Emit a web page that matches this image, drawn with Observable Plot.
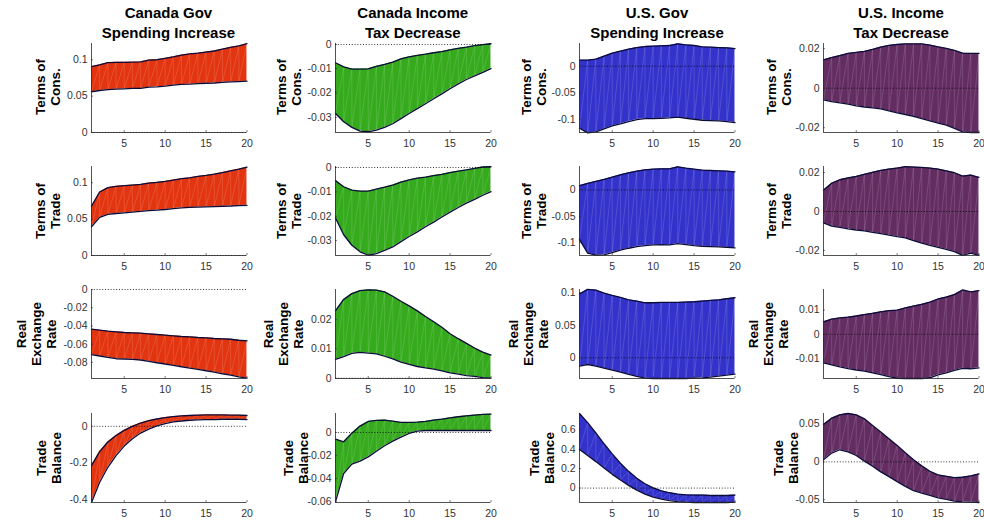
<!DOCTYPE html>
<html>
<head>
<meta charset="utf-8">
<script src="https://cdn.jsdelivr.net/npm/d3@7"></script>
<script src="https://cdn.jsdelivr.net/npm/@observablehq/plot@0.6"></script>
<style>
  html, body { margin: 0; padding: 0; background: #fff; }
  #chart { position: relative; width: 984px; height: 523px; overflow: hidden; background: #fff;
           font-family: "Liberation Sans", Arial, Helvetica, sans-serif; }
  .title { position: absolute; width: 240px; text-align: center; font-weight: bold; font-size: 15px;
           line-height: 20px; color: #000; transform: translateX(-50%); }
  .ylab { position: absolute; font-weight: bold; font-size: 13.5px; line-height: 15px; color: #000;
          text-align: center; white-space: nowrap; transform: translate(-50%, -50%) rotate(-90deg); }
  .panel { position: absolute; }
</style>
</head>
<body>
<div id="chart"></div>
<script>
// ---------- data ----------
const periods = [1,2,3,4,5,6,7,8,9,10,11,12,13,14,15,16,17,18,19,20];
const xTicks = [5, 10, 15, 20];
const columnTitles = [["Canada Gov", "Spending Increase"], ["Canada Income", "Tax Decrease"],
                      ["U.S. Gov", "Spending Increase"], ["U.S. Income", "Tax Decrease"]];
const rowLabels = [["Terms of", "Cons."], ["Terms of", "Trade"], ["Real", "Exchange", "Rate"], ["Trade", "Balance"]];
const fillColors = ["#e2340f", "#34aa1c", "#3333cc", "#632d62"];

// Canada Gov Spending Increase
const caGovConsHi = [0.0905,0.093,0.096,0.0964,0.0964,0.0966,0.097,0.0995,0.1,0.102,0.104,0.1064,0.108,0.109,0.1105,0.112,0.1145,0.117,0.119,0.122];
const caGovConsLo = [0.056,0.0577,0.059,0.0595,0.06,0.0605,0.0605,0.0623,0.0627,0.0636,0.065,0.066,0.0664,0.0673,0.0677,0.068,0.069,0.0695,0.07,0.0705];
const caGovTotHi = [0.0677,0.0873,0.0932,0.095,0.096,0.0968,0.0977,0.0995,0.1005,0.1018,0.1036,0.1055,0.1068,0.1086,0.11,0.1118,0.114,0.1164,0.1186,0.1214];
const caGovTotLo = [0.0395,0.0523,0.0564,0.0577,0.0586,0.0595,0.0605,0.0618,0.0623,0.0632,0.0645,0.0655,0.066,0.0664,0.0668,0.0673,0.0677,0.068,0.0686,0.069];
const caGovRerHi = [-0.0435,-0.0446,-0.0457,-0.0465,-0.0472,-0.0476,-0.0479,-0.0487,-0.0494,-0.0501,-0.0509,-0.0516,-0.052,-0.0527,-0.0531,-0.0538,-0.0542,-0.0546,-0.0557,-0.0564];
const caGovRerLo = [-0.0715,-0.073,-0.0745,-0.076,-0.0763,-0.0767,-0.0774,-0.0789,-0.0804,-0.0818,-0.0833,-0.0848,-0.0863,-0.0877,-0.0892,-0.0907,-0.0925,-0.094,-0.0958,-0.0973];
const caGovTbHi = [-0.215,-0.138,-0.086,-0.05,-0.022,0.0,0.018,0.031,0.04,0.048,0.053,0.057,0.059,0.061,0.062,0.062,0.062,0.061,0.061,0.059];
const caGovTbLo = [-0.416,-0.306,-0.224,-0.16,-0.108,-0.068,-0.037,-0.015,0.002,0.015,0.024,0.029,0.033,0.035,0.037,0.037,0.0385,0.0385,0.0385,0.037];

// Canada Income Tax Decrease
const caTaxConsHi = [-0.0075,-0.0092,-0.0101,-0.0101,-0.01,-0.009,-0.0082,-0.0073,-0.0059,-0.0051,-0.0045,-0.004,-0.0034,-0.0029,-0.0022,-0.0016,-0.0011,-0.0005,-0.0001,0.0003];
const caTaxConsLo = [-0.0284,-0.0318,-0.0341,-0.0356,-0.0359,-0.0352,-0.0341,-0.0326,-0.0305,-0.0284,-0.0264,-0.0244,-0.0223,-0.0203,-0.0182,-0.0162,-0.0144,-0.0129,-0.0115,-0.0099];
const caTaxTotHi = [-0.0054,-0.0079,-0.0093,-0.0097,-0.0097,-0.0089,-0.0081,-0.0072,-0.006,-0.0051,-0.0044,-0.004,-0.0033,-0.0028,-0.0021,-0.0015,-0.001,-0.0004,0.0002,0.0003];
const caTaxTotLo = [-0.0207,-0.0276,-0.0319,-0.0346,-0.036,-0.0353,-0.034,-0.0326,-0.0304,-0.0283,-0.0264,-0.0243,-0.0224,-0.0203,-0.0183,-0.0164,-0.0146,-0.0131,-0.0114,-0.0099];
const caTaxRerHi = [0.023,0.0269,0.0289,0.0299,0.0302,0.0301,0.0295,0.028,0.0263,0.0247,0.023,0.0211,0.0193,0.0174,0.0152,0.0135,0.0119,0.0103,0.0089,0.0079];
const caTaxRerLo = [0.0064,0.0074,0.0085,0.0088,0.0086,0.0083,0.0075,0.0066,0.0055,0.0047,0.004,0.0035,0.0031,0.0025,0.0018,0.0014,0.0009,0.0006,0.0002,0.0];
const caTaxTbHi = [-0.0058,-0.0081,-0.0006,0.0055,0.0095,0.0104,0.0107,0.0098,0.0087,0.0087,0.0089,0.0095,0.0107,0.0115,0.0127,0.0136,0.0144,0.015,0.0156,0.0159];
const caTaxTbLo = [-0.06,-0.0355,-0.0274,-0.0248,-0.0211,-0.0162,-0.0115,-0.0075,-0.004,-0.0009,0.0012,0.0017,0.0017,0.0017,0.0017,0.0017,0.0017,0.0017,0.0017,0.0017];

// U.S. Gov Spending Increase
const usGovConsHi = [0.0113,0.0113,0.0132,0.0189,0.0245,0.0283,0.0321,0.0352,0.0371,0.0377,0.0384,0.039,0.0421,0.0403,0.039,0.0365,0.0358,0.0352,0.0346,0.0333];
const usGovConsLo = [-0.117,-0.1258,-0.124,-0.1182,-0.1126,-0.1088,-0.1044,-0.1006,-0.0987,-0.0987,-0.0981,-0.0975,-0.0962,-0.0981,-0.1,-0.1019,-0.1025,-0.1031,-0.1044,-0.1063];
const usGovTotHi = [0.0082,0.0126,0.0164,0.0201,0.0245,0.0289,0.0327,0.0358,0.0384,0.0396,0.0403,0.0403,0.044,0.0415,0.0396,0.0377,0.0371,0.0365,0.0358,0.0346];
const usGovTotLo = [-0.0937,-0.1201,-0.1239,-0.1233,-0.1189,-0.1145,-0.1107,-0.1075,-0.1057,-0.1044,-0.1038,-0.1044,-0.1019,-0.1038,-0.1057,-0.1069,-0.1075,-0.1082,-0.1088,-0.1101];
const usGovRerHi = [0.098,0.1051,0.1041,0.0995,0.0959,0.0928,0.0892,0.0872,0.0846,0.0846,0.0851,0.0851,0.0851,0.0856,0.0862,0.0872,0.0882,0.0892,0.0908,0.0923];
const usGovRerLo = [-0.0128,-0.0103,-0.0128,-0.0159,-0.019,-0.0221,-0.0256,-0.0287,-0.0313,-0.0318,-0.0318,-0.0318,-0.0318,-0.0318,-0.0313,-0.0308,-0.0297,-0.0282,-0.0267,-0.0251];
const usGovTbHi = [0.766,0.672,0.566,0.455,0.352,0.255,0.172,0.1,0.045,0.003,-0.028,-0.048,-0.062,-0.069,-0.072,-0.072,-0.076,-0.076,-0.076,-0.072];
const usGovTbLo = [0.397,0.334,0.272,0.207,0.141,0.083,0.028,-0.021,-0.062,-0.093,-0.114,-0.128,-0.138,-0.145,-0.148,-0.148,-0.148,-0.148,-0.148,-0.145];

// U.S. Income Tax Decrease
const usTaxConsHi = [0.0143,0.0155,0.0165,0.0176,0.0181,0.0186,0.0196,0.0208,0.0216,0.0221,0.0224,0.0224,0.0224,0.0218,0.0209,0.0201,0.0191,0.0177,0.0176,0.0176];
const usTaxConsLo = [-0.0059,-0.0068,-0.0074,-0.0081,-0.0089,-0.0095,-0.01,-0.0105,-0.0115,-0.0125,-0.0133,-0.0143,-0.0154,-0.0165,-0.0177,-0.0187,-0.0203,-0.0221,-0.0224,-0.0224];
const usTaxTotHi = [0.0109,0.0145,0.0163,0.0172,0.018,0.0191,0.0201,0.0211,0.0218,0.0223,0.023,0.0228,0.0226,0.0223,0.0218,0.0209,0.0199,0.0182,0.0187,0.0175];
const usTaxTotLo = [-0.0058,-0.0075,-0.0082,-0.0089,-0.0095,-0.01,-0.0107,-0.0114,-0.0121,-0.0129,-0.0136,-0.015,-0.0163,-0.0174,-0.0184,-0.0194,-0.0206,-0.0225,-0.0214,-0.0225];
const usTaxRerHi = [0.0051,0.0062,0.0067,0.007,0.0075,0.0081,0.0086,0.0092,0.0097,0.0099,0.0108,0.0116,0.0123,0.0132,0.0145,0.0153,0.0163,0.0182,0.0174,0.0179];
const usTaxRerLo = [-0.0118,-0.0126,-0.0134,-0.0141,-0.0147,-0.0152,-0.0159,-0.0166,-0.0174,-0.0181,-0.0182,-0.0182,-0.0182,-0.0179,-0.0167,-0.0159,-0.0149,-0.014,-0.0142,-0.0138];
const usTaxTbHi = [0.0493,0.0578,0.0622,0.064,0.0622,0.0569,0.048,0.0396,0.0307,0.0218,0.012,0.0027,-0.0053,-0.0124,-0.0173,-0.0191,-0.0209,-0.0204,-0.0187,-0.016];
const usTaxTbLo = [0.0027,0.0116,0.016,0.0133,0.0084,0.0009,-0.0058,-0.0133,-0.0196,-0.0262,-0.0324,-0.0382,-0.0413,-0.0444,-0.0476,-0.0498,-0.052,-0.0529,-0.0533,-0.0538];

// y tick labels (row-major: row, column)
const yTickSets = [
  [[0, 0.05, 0.1], [-0.03, -0.02, -0.01, 0], [-0.1, -0.05, 0], [-0.02, 0, 0.02]],
  [[0, 0.05, 0.1], [-0.03, -0.02, -0.01, 0], [-0.1, -0.05, 0], [-0.02, 0, 0.02]],
  [[-0.08, -0.06, -0.04, -0.02, 0], [0, 0.01, 0.02], [0, 0.05, 0.1], [-0.01, 0, 0.01]],
  [[-0.4, -0.2, 0], [-0.06, -0.04, -0.02, 0], [0, 0.2, 0.4, 0.6], [-0.05, 0, 0.05]]
];
// y axis limits
const yDomains = [
  [[0, 0.1223], [-0.0362, 0.0004], [-0.125, 0.0428], [-0.0224, 0.0226]],
  [[0, 0.1223], [-0.0361, 0.0004], [-0.1245, 0.0447], [-0.0226, 0.0231]],
  [[-0.0977, 0], [-0.0001, 0.0303], [-0.0318, 0.105], [-0.0182, 0.0184]],
  [[-0.4165, 0.07], [-0.0606, 0.0164], [-0.148, 0.766], [-0.0538, 0.064]]
];
const bands = [
  [[caGovConsHi, caGovConsLo], [caTaxConsHi, caTaxConsLo], [usGovConsHi, usGovConsLo], [usTaxConsHi, usTaxConsLo]],
  [[caGovTotHi, caGovTotLo], [caTaxTotHi, caTaxTotLo], [usGovTotHi, usGovTotLo], [usTaxTotHi, usTaxTotLo]],
  [[caGovRerHi, caGovRerLo], [caTaxRerHi, caTaxRerLo], [usGovRerHi, usGovRerLo], [usTaxRerHi, usTaxRerLo]],
  [[caGovTbHi, caGovTbLo], [caTaxTbHi, caTaxTbLo], [usGovTbHi, usGovTbLo], [usTaxTbHi, usTaxTbLo]]
];

// ---------- layout ----------
const plotLefts = [90.7, 335, 579.3, 823.3];
const plotTops = [42.7, 166, 289.3, 413.3];
const PW = 155.5, PH = 89;
const ML = 60, MR = 4, MT = 4, MB = 24;
const labelOffsets = [
  [43.2, 46, 45.1, 44.1],
  [43.2, 46, 45.1, 44.1],
  [54.7, 51.7, 51, 55],
  [41.7, 39.2, 37.5, 37.8]
];

const chart = document.getElementById("chart");

columnTitles.forEach((lines, c) => {
  const t = document.createElement("div");
  t.className = "title";
  t.style.left = (plotLefts[c] + PW / 2) + "px";
  t.style.top = "3px";
  t.innerHTML = lines.join("<br>");
  chart.appendChild(t);
});

for (let r = 0; r < 4; r++) {
  for (let c = 0; c < 4; c++) {
    const [hi, lo] = bands[r][c];
    const rows = periods.map((p, i) => ({x: p, hi: hi[i], lo: lo[i]}));
    const segs = [];
    periods.forEach((p, i) => {
      segs.push({x1: p, y1: lo[i], x2: p, y2: hi[i]});
      if (i + 1 < periods.length) segs.push({x1: p, y1: lo[i], x2: periods[i + 1], y2: hi[i + 1]});
    });
    const dom = yDomains[r][c];
    const ticks = yTickSets[r][c];
    const W = ML + PW + MR, H = MT + PH + MB;
    const svg = Plot.plot({
      width: W, height: H,
      marginLeft: ML, marginRight: MR, marginTop: MT, marginBottom: MB,
      style: {fontFamily: '"Liberation Sans", Arial, sans-serif', fontSize: "10.5px", color: "#333", background: "transparent", overflow: "visible"},
      x: {domain: [periods[0], periods[periods.length - 1]], ticks: xTicks, tickSize: 0, tickPadding: 7, tickFormat: d => String(d), label: null},
      y: {domain: dom, ticks: ticks, tickSize: 0, tickPadding: 4, tickFormat: d => String(d), label: null},
      marks: [
        Plot.areaY(rows, {x: "x", y1: "lo", y2: "hi", fill: fillColors[c], curve: "linear"}),
        Plot.link(segs, {x1: "x1", y1: "y1", x2: "x2", y2: "y2", stroke: "white", strokeOpacity: 0.2, strokeWidth: 0.7}),
        Plot.line(rows, {x: "x", y: "hi", stroke: "#0c0c3a", strokeWidth: 1.3}),
        Plot.line(rows, {x: "x", y: "lo", stroke: "#0c0c3a", strokeWidth: 1.3}),
        Plot.ruleY([0], {stroke: "#000", strokeWidth: 0.8, strokeDasharray: "1,1.8"}),
        Plot.ruleX([periods[0]], {stroke: "#262626", strokeWidth: 0.8}),
        Plot.ruleY([dom[0]], {stroke: "#262626", strokeWidth: 0.8}),
        Plot.tickX(xTicks, {x: d => d, stroke: "#262626", strokeWidth: 0.6, insetTop: PH - 2}),
        Plot.tickY(ticks, {y: d => d, stroke: "#262626", strokeWidth: 0.6, insetRight: PW - 2})
      ]
    });
    const holder = document.createElement("div");
    holder.className = "panel";
    holder.style.left = (plotLefts[c] - ML) + "px";
    holder.style.top = (plotTops[r] - MT) + "px";
    holder.appendChild(svg);
    chart.appendChild(holder);

    const lab = document.createElement("div");
    lab.className = "ylab";
    lab.style.left = (plotLefts[c] - labelOffsets[r][c]) + "px";
    lab.style.top = (plotTops[r] + PH / 2) + "px";
    lab.innerHTML = rowLabels[r].join("<br>");
    chart.appendChild(lab);
  }
}
</script>
</body>
</html>
